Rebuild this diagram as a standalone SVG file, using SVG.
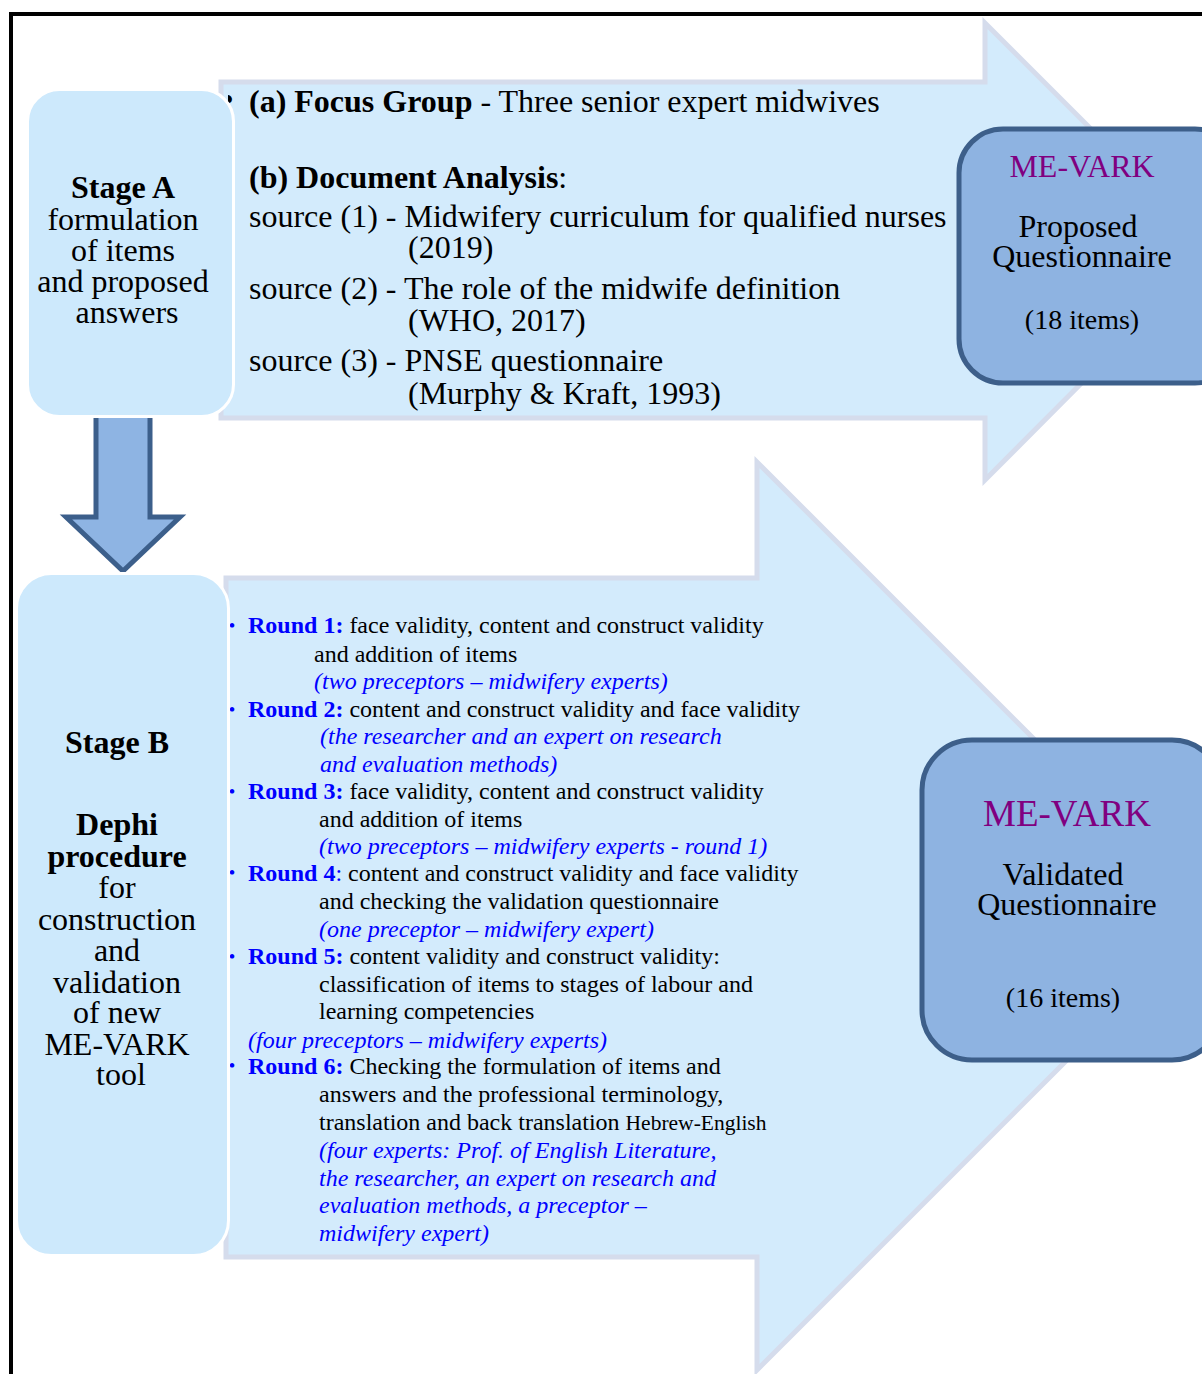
<svg xmlns="http://www.w3.org/2000/svg" width="1202" height="1374" viewBox="0 0 1202 1374">
  <style>
    text { font-family: "Liberation Serif", "Times New Roman", serif; fill: #000; }
    .big { font-size: 32px; }
    .rnd { font-size: 24px; }
    .b { font-weight: bold; }
    .blue { fill: #0000ff; }
    .it { font-style: italic; fill: #0000ff; }
    .purple { fill: #800080; }
    .bigarrow { fill: #d3ebfc; stroke: #d5dcec; stroke-width: 5; stroke-linejoin: miter; }
    .stage { fill: #cde9fc; stroke: #ffffff; stroke-width: 3; }
    .result { fill: #8eb3e1; stroke: #3d5f8a; stroke-width: 5; }
  </style>
  <defs>
    <clipPath id="bulletClip">
      <rect x="228" y="80" width="10" height="40"/>
    </clipPath>
  </defs>

  <rect width="1202" height="1374" fill="#ffffff"/>
  <!-- outer frame -->
  <rect x="11" y="14" width="1220" height="1400" fill="none" stroke="#000000" stroke-width="4"/>

  <!-- connectors: big block arrows and the down arrow -->
  <g id="connectors">
    <polygon class="bigarrow" points="221,82 985,82 985,23 1213,251 985,480 985,418 221,418"/>
    <polygon class="bigarrow" points="226,578 757,578 757,462 1211,916 757,1370 757,1257 226,1257"/>
    <polygon points="96,408 150,408 150,517 180,517 123,571 66,517 96,517" fill="#8eb4e3" stroke="#3c5f8b" stroke-width="5" stroke-linejoin="miter"/>
  </g>

  <!-- Stage A: document sources -->
  <g id="stageA-content">
    <text class="big b" x="222" y="110" clip-path="url(#bulletClip)">•</text>
    <text class="big" x="249" y="112"><tspan class="b">(a) Focus Group</tspan> - Three senior expert midwives</text>
    <text class="big" x="249" y="188"><tspan class="b">(b) Document Analysis</tspan>:</text>
    <text class="big" x="249" y="227">source (1) - Midwifery curriculum for qualified nurses</text>
    <text class="big" x="408" y="258">(2019)</text>
    <text class="big" x="249" y="299">source (2) - The role of the midwife definition</text>
    <text class="big" x="408" y="331">(WHO, 2017)</text>
    <text class="big" x="249" y="371">source (3) - PNSE questionnaire</text>
    <text class="big" x="408" y="404">(Murphy &amp; Kraft, 1993)</text>
  </g>

  <g id="stageA">
    <rect class="stage" x="27.5" y="89.5" width="206" height="327" rx="32"/>
    <text class="big" text-anchor="middle">
      <tspan class="b" x="127" y="198">Stage A</tspan>
      <tspan x="127" y="230">formulation</tspan>
      <tspan x="127" y="261">of items</tspan>
      <tspan x="127" y="292">and proposed</tspan>
      <tspan x="127" y="323">answers</tspan>
    </text>
  </g>

  <g id="proposed">
    <rect class="result" x="959" y="129" width="280" height="254" rx="44"/>
    <text class="purple" x="1082" y="177" text-anchor="middle" font-size="32">ME-VARK</text>
    <text class="big" text-anchor="middle">
      <tspan x="1082" y="237">Proposed</tspan>
      <tspan x="1082" y="267">Questionnaire</tspan>
    </text>
    <text x="1082" y="329" text-anchor="middle" font-size="28">(18 items)</text>
  </g>

  <!-- Stage B: Delphi rounds -->
  <g id="stageB-content" class="rnd">
    <text class="blue b" x="229" y="631" font-size="17">•</text>
    <text x="248" y="633"><tspan class="blue b">Round 1:</tspan> face validity, content and construct validity</text>
    <text x="314" y="662">and addition of items</text>
    <text class="it" x="314" y="689">(two preceptors – midwifery experts)</text>

    <text class="blue b" x="229" y="715" font-size="17">•</text>
    <text x="248" y="717"><tspan class="blue b">Round 2:</tspan> content and construct validity and face validity</text>
    <text class="it" x="320" y="744">(the researcher and an expert on research</text>
    <text class="it" x="320" y="772">and evaluation methods)</text>

    <text class="blue b" x="229" y="797" font-size="17">•</text>
    <text x="248" y="799"><tspan class="blue b">Round 3:</tspan> face validity, content and construct validity</text>
    <text x="319" y="827">and addition of items</text>
    <text class="it" x="319" y="854">(two preceptors – midwifery experts - round 1)</text>

    <text class="blue b" x="229" y="878" font-size="17">•</text>
    <text x="248" y="881"><tspan class="blue b">Round 4</tspan><tspan class="blue">:</tspan> content and construct validity and face validity</text>
    <text x="319" y="909">and checking the validation questionnaire</text>
    <text class="it" x="319" y="937">(one preceptor – midwifery expert)</text>

    <text class="blue b" x="229" y="962" font-size="17">•</text>
    <text x="248" y="964"><tspan class="blue b">Round 5:</tspan> content validity and construct validity:</text>
    <text x="319" y="992">classification of items to stages of labour and</text>
    <text x="319" y="1019">learning competencies</text>
    <text class="it" x="248" y="1048">(four preceptors – midwifery experts)</text>

    <text class="blue b" x="229" y="1071" font-size="17">•</text>
    <text x="248" y="1074"><tspan class="blue b">Round 6:</tspan> Checking the formulation of items and</text>
    <text x="319" y="1102">answers and the professional terminology,</text>
    <text x="319" y="1130">translation and back translation <tspan font-size="21.5">Hebrew-English</tspan></text>
    <text class="it" x="319" y="1158">(four experts: Prof. of English Literature,</text>
    <text class="it" x="319" y="1186">the researcher, an expert on research and</text>
    <text class="it" x="319" y="1213">evaluation methods, a preceptor –</text>
    <text class="it" x="319" y="1241">midwifery expert)</text>
  </g>

  <g id="stageB">
    <rect class="stage" x="16.5" y="573.5" width="212" height="682" rx="35"/>
    <text class="big" text-anchor="middle">
      <tspan class="b" x="121" y="753">Stage B</tspan>
      <tspan class="b" x="121" y="835">Dephi</tspan>
      <tspan class="b" x="121" y="867">procedure</tspan>
      <tspan x="121" y="898">for</tspan>
      <tspan x="121" y="930">construction</tspan>
      <tspan x="121" y="961">and</tspan>
      <tspan x="121" y="993">validation</tspan>
      <tspan x="121" y="1023">of new</tspan>
      <tspan x="121" y="1055">ME-VARK</tspan>
      <tspan x="121" y="1085">tool</tspan>
    </text>
  </g>

  <g id="validated">
    <rect class="result" x="922" y="740" width="300" height="320" rx="50"/>
    <text class="purple" x="1067" y="826" text-anchor="middle" font-size="37">ME-VARK</text>
    <text class="big" text-anchor="middle">
      <tspan x="1067" y="885">Validated</tspan>
      <tspan x="1067" y="915">Questionnaire</tspan>
    </text>
    <text x="1063" y="1007" text-anchor="middle" font-size="28">(16 items)</text>
  </g>
</svg>
